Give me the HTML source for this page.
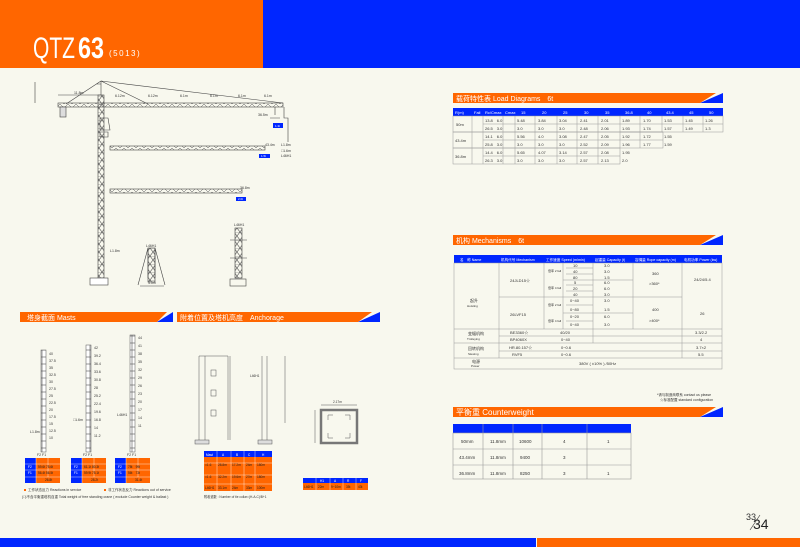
<!DOCTYPE html>
<html><head><meta charset="utf-8"><style>
html,body{margin:0;padding:0;background:#f8f8ee;}
svg{display:block;font-family:"Liberation Sans","Noto Sans CJK SC",sans-serif;}
</style></head><body>
<svg width="800" height="547" viewBox="0 0 800 547" xmlns="http://www.w3.org/2000/svg">
<defs>
<pattern id="seg" width="6" height="7" patternUnits="userSpaceOnUse"><rect width="6" height="7" fill="#fff" stroke="#555" stroke-width="0.6"/></pattern>
<pattern id="lat" width="6" height="8" patternUnits="userSpaceOnUse"><path d="M0 0L6 8M6 0L0 8M0 0H6" stroke="#555" stroke-width="0.6" fill="none"/></pattern>
<pattern id="latj" width="8" height="4" patternUnits="userSpaceOnUse"><path d="M0 4L4 0L8 4" stroke="#555" stroke-width="0.5" fill="none"/></pattern>
</defs>
<rect width="800" height="547" fill="#f8f8ee"/>
<!-- header -->
<rect x="0" y="0" width="263" height="68" fill="#ff6600"/>
<rect x="263" y="0" width="537" height="68" fill="#0026ff"/>
<text x="33" y="58" fill="#fff" font-size="30" textLength="42" lengthAdjust="spacingAndGlyphs">QTZ</text>
<text x="78" y="58" fill="#fff" font-size="30" font-weight="bold" textLength="26" lengthAdjust="spacingAndGlyphs">63</text>
<text x="109" y="56" fill="#fff" font-size="8" letter-spacing="1.5">(5013)</text>
<!-- bottom -->
<rect x="0" y="538" width="536" height="9" fill="#0026ff"/>
<rect x="537" y="538" width="263" height="9" fill="#ff6600"/>
<text x="746" y="520" font-size="9" fill="#333">33</text>
<line x1="750" y1="530" x2="760" y2="515" stroke="#333" stroke-width="0.6"/>
<text x="753" y="529" font-size="14" fill="#222">34</text>

<!-- section headers -->
<g font-size="7" fill="#fff">
<path d="M453 93H716L700 103H453Z" fill="#ff6600"/><path d="M700 103L723 93V103Z" fill="#0026ff"/>
<text x="456" y="101">载荷特性表 Load Diagrams　6t</text>
<path d="M453 235H716L700 245H453Z" fill="#ff6600"/><path d="M700 245L723 235V245Z" fill="#0026ff"/>
<text x="456" y="243">机构 Mechanisms　6t</text>
<path d="M453 407H716L700 417H453Z" fill="#ff6600"/><path d="M700 417L723 407V417Z" fill="#0026ff"/>
<text x="456" y="415" font-size="8">平衡重 Counterweight</text>
<path d="M20 312H167L157 322H20Z" fill="#ff6600"/><path d="M157 322L173 312V322Z" fill="#0026ff"/>
<text x="27" y="320">塔身截面 Masts</text>
<path d="M177 312H372L358 322H177Z" fill="#ff6600"/><path d="M358 322L380 312V322Z" fill="#0026ff"/>
<text x="180" y="320">附着位置及塔机高度　Anchorage</text>
</g>

<!-- load table -->
<g font-size="4" fill="#333" stroke-width="0.5">
<rect x="453" y="108" width="270" height="8" fill="#0026ff"/>
<g fill="#fff"><text x="455" y="114">R(m)</text><text x="474" y="114">Fall</text><text x="485" y="114">Rc/Cmax</text><text x="505" y="114">Cmax</text>
<text x="521" y="114">15</text><text x="542" y="114">20</text><text x="563" y="114">25</text><text x="584" y="114">30</text><text x="605" y="114">35</text><text x="625" y="114">36.8</text><text x="647" y="114">40</text><text x="666" y="114">43.4</text><text x="689" y="114">45</text><text x="709" y="114">50</text></g>
<g fill="none" stroke="#999">
<rect x="453" y="116" width="270" height="16"/><rect x="453" y="132" width="210" height="16"/><rect x="453" y="148" width="167" height="16"/>
<path d="M472 116V164M483 116V164M503 116V164M515 116V164M535 116V164M557 116V164M577 116V164M598 116V164M620 116V148M640 116V148M662 116V132M683 116V132M703 116V132M483 124H723M483 140H663M483 156H620M620 132H663"/>
</g>
<text x="456" y="126">50m</text><text x="455" y="142">43.4m</text><text x="455" y="158">36.8m</text>
<text x="485" y="122">13.8　6.0</text><text x="517" y="122">5.48</text><text x="538" y="122">3.84</text><text x="559" y="122">3.04</text><text x="580" y="122">2.41</text><text x="601" y="122">2.01</text><text x="622" y="122">1.89</text><text x="643" y="122">1.70</text><text x="664" y="122">1.53</text><text x="685" y="122">1.45</text><text x="705" y="122">1.26</text>
<text x="485" y="130">26.5　3.0</text><text x="517" y="130">3.0</text><text x="538" y="130">3.0</text><text x="559" y="130">3.0</text><text x="580" y="130">2.48</text><text x="601" y="130">2.06</text><text x="622" y="130">1.93</text><text x="643" y="130">1.74</text><text x="664" y="130">1.57</text><text x="685" y="130">1.49</text><text x="705" y="130">1.3</text>
<text x="485" y="138">14.1　6.0</text><text x="517" y="138">5.56</text><text x="538" y="138">4.0</text><text x="559" y="138">3.08</text><text x="580" y="138">2.47</text><text x="601" y="138">2.05</text><text x="622" y="138">1.92</text><text x="643" y="138">1.72</text><text x="664" y="138">1.55</text>
<text x="485" y="146">25.8　3.0</text><text x="517" y="146">3.0</text><text x="538" y="146">3.0</text><text x="559" y="146">3.0</text><text x="580" y="146">2.52</text><text x="601" y="146">2.09</text><text x="622" y="146">1.96</text><text x="643" y="146">1.77</text><text x="664" y="146">1.59</text>
<text x="485" y="154">14.4　6.0</text><text x="517" y="154">5.65</text><text x="538" y="154">4.07</text><text x="559" y="154">3.14</text><text x="580" y="154">2.57</text><text x="601" y="154">2.08</text><text x="622" y="154">1.95</text>
<text x="485" y="162">26.3　3.0</text><text x="517" y="162">3.0</text><text x="538" y="162">3.0</text><text x="559" y="162">3.0</text><text x="580" y="162">2.57</text><text x="601" y="162">2.13</text><text x="622" y="162">2.0</text>
</g>

<!-- mechanisms table -->
<g font-size="4" fill="#333">
<rect x="454" y="255" width="268" height="8" fill="#0026ff"/>
<g fill="#fff" font-size="3.6"><text x="460" y="261">名　称 Name</text><text x="501" y="261">机构代号 Mechanism</text><text x="546" y="261">工作速度 Speed (m/min)</text><text x="595" y="261">起重量 Capacity (t)</text><text x="635" y="261">容绳量 Rope capacity (m)</text><text x="684" y="261">电机功率 Power (kw)</text></g>
<g fill="none" stroke="#999" stroke-width="0.5">
<rect x="454" y="263" width="268" height="106"/>
<path d="M499 263V358M544 263V329M593 263V343M633 263V329M682 263V358M454 329H722M499 343H722M454 343H499M454 358H722M499 297H682M499 336H722M499 351H722M563 263V329M563 280H633M563 313H633M566 268H593M566 274H593M566 285H593M566 291H593M566 305H593M566 321H593"/>
</g>
<text x="510" y="282">24JLD15☆</text><text x="510" y="316">26LVF15</text>
<text x="548" y="272" font-size="3">倍率 2 fall</text><text x="548" y="289" font-size="3">倍率 4 fall</text><text x="548" y="306" font-size="3">倍率 2 fall</text><text x="548" y="322" font-size="3">倍率 4 fall</text>
<text x="573" y="267">10</text><text x="573" y="273">40</text><text x="573" y="279">80</text><text x="574" y="284">5</text><text x="573" y="290">20</text><text x="573" y="296">40</text>
<text x="604" y="267">3.0</text><text x="604" y="273">3.0</text><text x="604" y="279">1.5</text><text x="604" y="284">6.0</text><text x="604" y="290">6.0</text><text x="604" y="296">3.0</text>
<text x="570" y="302">0~40</text><text x="604" y="302">3.0</text><text x="570" y="311">0~80</text><text x="604" y="311">1.5</text><text x="570" y="318">0~20</text><text x="604" y="318">6.0</text><text x="570" y="326">0~40</text><text x="604" y="326">3.0</text>
<text x="652" y="275">360</text><text x="649" y="285">&gt;360*</text><text x="652" y="311">400</text><text x="649" y="322">&gt;400*</text>
<text x="694" y="281">24/24/5.4</text><text x="700" y="315">26</text>
<text x="470" y="302">起升</text><text x="467" y="307" font-size="3">Hoisting</text>
<text x="468" y="335">变幅机构</text><text x="467" y="340" font-size="3">Trolleying</text>
<text x="468" y="350">回转机构</text><text x="468" y="355" font-size="3">Slewing</text>
<text x="472" y="363">电源</text><text x="471" y="367" font-size="3">Power</text>
<text x="510" y="334">BE3360☆</text><text x="560" y="334">40/20</text><text x="695" y="334">3.3/2.2</text>
<text x="510" y="341">BP4060X</text><text x="561" y="341">0~40</text><text x="700" y="341">4</text>
<text x="509" y="349">HR.80.157☆</text><text x="561" y="349">0~0.6</text><text x="696" y="349">3.7×2</text>
<text x="512" y="356">RVF5</text><text x="561" y="356">0~0.6</text><text x="698" y="356">5.5</text>
<text x="579" y="365">380V ( ±10% ) /50Hz</text>
</g>
<text x="657" y="396" font-size="3.5" fill="#333">*请与制造商联系 contact us please</text>
<text x="660" y="401" font-size="3.5" fill="#333">☆标准配置 standard configuration</text>

<!-- counterweight -->
<g font-size="4.5" fill="#333">
<rect x="453" y="424" width="178" height="9" fill="#0026ff"/>
<g fill="none" stroke="#999" stroke-width="0.6"><rect x="453" y="433" width="178" height="46"/><path d="M483 424V479M513 424V479M542 424V479M587 424V479M453 449H631M453 465H631"/></g>
<text x="461" y="443">50mm</text><text x="490" y="443">11.8mm</text><text x="519" y="443">10600</text><text x="563" y="443">4</text><text x="607" y="443">1</text>
<text x="459" y="459">43.4mm</text><text x="490" y="459">11.8mm</text><text x="520" y="459">9400</text><text x="563" y="459">3</text>
<text x="459" y="475">36.8mm</text><text x="490" y="475">11.8mm</text><text x="520" y="475">8250</text><text x="563" y="475">3</text><text x="607" y="475">1</text>
</g>

<!-- crane drawing -->
<g stroke="#444" stroke-width="0.6" fill="none">
<rect x="98" y="95" width="6" height="183" fill="url(#lat)"/>
<rect x="90" y="278" width="18" height="7" fill="#fff"/>
<rect x="58" y="103" width="225" height="4" fill="url(#latj)"/>
<path d="M101 81L66 104M101 81L148 104M101 81L283 103M101 81V95M96 84H101"/>
<rect x="60" y="107" width="6" height="10" fill="#ddd"/>
<path d="M100 118H108L110 130H100ZM100 132H108V137H100Z"/>
<rect x="110" y="146" width="155" height="4" fill="url(#latj)"/>
<rect x="110" y="189" width="132" height="4" fill="url(#latj)"/>
<path d="M275 107V115M270 118H280M284 107V118H288V142"/>
<path d="M148 248V278M155 248V278M138 285L148 248M165 285L155 248M140 286H164"/>
<rect x="148" y="248" width="7" height="34" fill="url(#lat)"/>
<rect x="235" y="228" width="7" height="50" fill="url(#lat)"/>
<path d="M230 240H247M230 258H247"/>
<rect x="230" y="279" width="16" height="7"/>
<path d="M58 95H101M35 82V103"/>
</g>
<g font-size="3.5" fill="#333">
<text x="74" y="94">11.8m</text><text x="115" y="97">6.12m</text><text x="148" y="97">6.12m</text><text x="180" y="97">6.1m</text><text x="210" y="97">6.1m</text><text x="238" y="97">6.1m</text><text x="264" y="97">6.1m</text>
<text x="258" y="116">36.5m</text><text x="265" y="146">43.4m</text><text x="240" y="189">36.8m</text>
<text x="281" y="146">L1.8m</text><text x="281" y="152">□1.6m</text><text x="281" y="157">L46H1</text>
<text x="110" y="252">L1.8m</text><text x="146" y="247">L46H1</text><text x="234" y="226">L46H1</text><text x="148" y="284">4.5m</text>
</g>
<rect x="273" y="123" width="10" height="5" fill="#0026ff"/><rect x="259" y="154" width="11" height="4" fill="#0026ff"/><rect x="236" y="197" width="10" height="4" fill="#0026ff"/>
<g font-size="3" fill="#fff"><text x="275" y="127">1.3t</text><text x="261" y="157">1.5t</text><text x="238" y="200">2.0t</text></g>

<!-- masts -->
<g stroke="#555" stroke-width="0.5">
<rect x="41" y="350" width="5" height="102" fill="url(#seg)"/>
<rect x="86" y="345" width="5" height="107" fill="url(#seg)"/>
<rect x="130" y="335" width="5" height="117" fill="url(#seg)"/>
</g>
<g font-size="3.5" fill="#333">
<text x="49" y="355">40</text><text x="49" y="362">37.5</text><text x="49" y="369">35</text><text x="49" y="376">32.5</text><text x="49" y="383">30</text><text x="49" y="390">27.5</text><text x="49" y="397">25</text><text x="49" y="404">22.5</text><text x="49" y="411">20</text><text x="49" y="418">17.5</text><text x="49" y="425">15</text><text x="49" y="432">12.5</text><text x="49" y="439">10</text>
<text x="94" y="349">42</text><text x="94" y="357">39.2</text><text x="94" y="365">36.4</text><text x="94" y="373">33.6</text><text x="94" y="381">30.8</text><text x="94" y="389">28</text><text x="94" y="397">25.2</text><text x="94" y="405">22.4</text><text x="94" y="413">19.6</text><text x="94" y="421">16.8</text><text x="94" y="429">14</text><text x="94" y="437">11.2</text>
<text x="138" y="339">44</text><text x="138" y="347">41</text><text x="138" y="355">38</text><text x="138" y="363">35</text><text x="138" y="371">32</text><text x="138" y="379">29</text><text x="138" y="387">26</text><text x="138" y="395">23</text><text x="138" y="403">20</text><text x="138" y="411">17</text><text x="138" y="419">14</text><text x="138" y="427">11</text>
<text x="30" y="433">L1.8m</text><text x="73" y="421">□1.6m</text><text x="117" y="416">L46H1</text>
<text x="37" y="456">F2 F1</text><text x="83" y="456">F2 F1</text><text x="127" y="456">F2 F1</text>
</g>
<!-- mast tables -->
<g font-size="3.2">
<g><rect x="25" y="458" width="35" height="25" fill="#ff6600"/><rect x="25" y="458" width="11" height="25" fill="#0026ff"/><rect x="36" y="477" width="24" height="6" fill="#ff6600"/></g>
<g><rect x="71" y="458" width="35" height="25" fill="#ff6600"/><rect x="71" y="458" width="11" height="25" fill="#0026ff"/><rect x="82" y="477" width="24" height="6" fill="#ff6600"/></g>
<g><rect x="115" y="458" width="35" height="25" fill="#ff6600"/><rect x="115" y="458" width="11" height="25" fill="#0026ff"/><rect x="126" y="477" width="24" height="6" fill="#ff6600"/></g>
<g stroke="#fff" stroke-width="0.4" fill="none"><path d="M25 464H60M25 470H60M25 477H60M36 458V483M48 458V477M71 464H106M71 470H106M71 477H106M82 458V483M94 458V477M115 464H150M115 470H150M115 477H150M126 458V483M138 458V477"/></g>
<g fill="#fff"><text x="28" y="468">F2</text><text x="28" y="474">F1</text><text x="74" y="468">F2</text><text x="74" y="474">F1</text><text x="118" y="468">F2</text><text x="118" y="474">F1</text></g>
<g fill="#222"><text x="38" y="468">59.6t 75.6t</text><text x="38" y="474">56.4t 56.5t</text><text x="45" y="481">26.8t</text><text x="84" y="468">61.1t 80.3t</text><text x="84" y="474">59.9t 75.1t</text><text x="91" y="481">28.2t</text><text x="128" y="468">78t　99t</text><text x="128" y="474">56t　73t</text><text x="135" y="481">31.4t</text></g>
</g>
<g font-size="3.5" fill="#333">
<rect x="24" y="489" width="2" height="2" fill="#ff6600"/><text x="28" y="491">工作状态反力 Reactions in service</text>
<rect x="104" y="489" width="2" height="2" fill="#ff6600"/><text x="108" y="491">非工作状态反力 Reactions out of service</text>
<text x="22" y="498">(□)不含平衡重塔机自重 Total weight of free standing crane ( exclude Counter weight &amp; ballast )</text>
</g>

<!-- anchorage -->
<g stroke="#555" stroke-width="0.5" fill="none">
<path d="M199 356V440M205 356V440M199 356H228V440M230 356V440"/>
<rect x="195" y="440" width="14" height="4" fill="#ddd"/>
<rect x="211" y="370" width="5" height="6"/><rect x="211" y="390" width="5" height="6"/><rect x="211" y="410" width="5" height="6"/>
<path d="M262 356V440M267 356V440M285 356V423"/>
<rect x="258" y="440" width="14" height="4" fill="#ddd"/>
<rect x="321" y="410" width="36" height="33" stroke="#777" stroke-width="2.5"/>
<path d="M328 415H333M328 415V420M350 415H345M350 415V420M328 438H333M328 438V433M350 438H345M350 438V433"/>
<path d="M321 405H357M315 410V443"/>
</g>
<g font-size="3.2" fill="#333"><text x="250" y="377">L46H1</text><text x="333" y="403">2.17m</text></g>
<g font-size="3.2">
<rect x="204" y="451" width="68" height="40" fill="#ff6600"/>
<rect x="204" y="451" width="68" height="6" fill="#0026ff"/>
<g stroke="#fff" stroke-width="0.4" fill="none"><path d="M204 463H272M204 475H272M204 484H272M217 451V491M231 451V491M244 451V491M255 451V491"/></g>
<g fill="#fff"><text x="206" y="456">Mast</text><text x="222" y="456">A</text><text x="236" y="456">B</text><text x="248" y="456">C</text><text x="262" y="456">H</text></g>
<g fill="#222"><text x="205" y="466">□1.6</text><text x="218" y="466">28.8m</text><text x="232" y="466">17.2m</text><text x="246" y="466">24m</text><text x="257" y="466">180m</text>
<text x="205" y="478">□1.6</text><text x="218" y="478">32.2m</text><text x="232" y="478">19.6m</text><text x="246" y="478">27m</text><text x="257" y="478">180m</text>
<text x="205" y="489">L46H1</text><text x="218" y="489">33.1m</text><text x="232" y="489">24m</text><text x="246" y="489">33m</text><text x="257" y="489">100m</text></g>
<text x="204" y="498" fill="#333">附着道数 : Number of tie collar=(H-A-C)/B+1</text>
<rect x="303" y="478" width="65" height="12" fill="#ff6600"/><rect x="303" y="478" width="65" height="5" fill="#0026ff"/>
<g stroke="#fff" stroke-width="0.4"><path d="M316 478V490M330 478V490M343 478V490M356 478V490"/></g>
<g fill="#fff"><text x="320" y="482">H1</text><text x="334" y="482">A</text><text x="347" y="482">R</text><text x="360" y="482">F</text></g>
<g fill="#222"><text x="304" y="488">L46H1</text><text x="318" y="488">22m</text><text x="331" y="488">9~10m</text><text x="346" y="488">35t</text><text x="358" y="488">43t</text></g>
</g>
</svg>
</body></html>
